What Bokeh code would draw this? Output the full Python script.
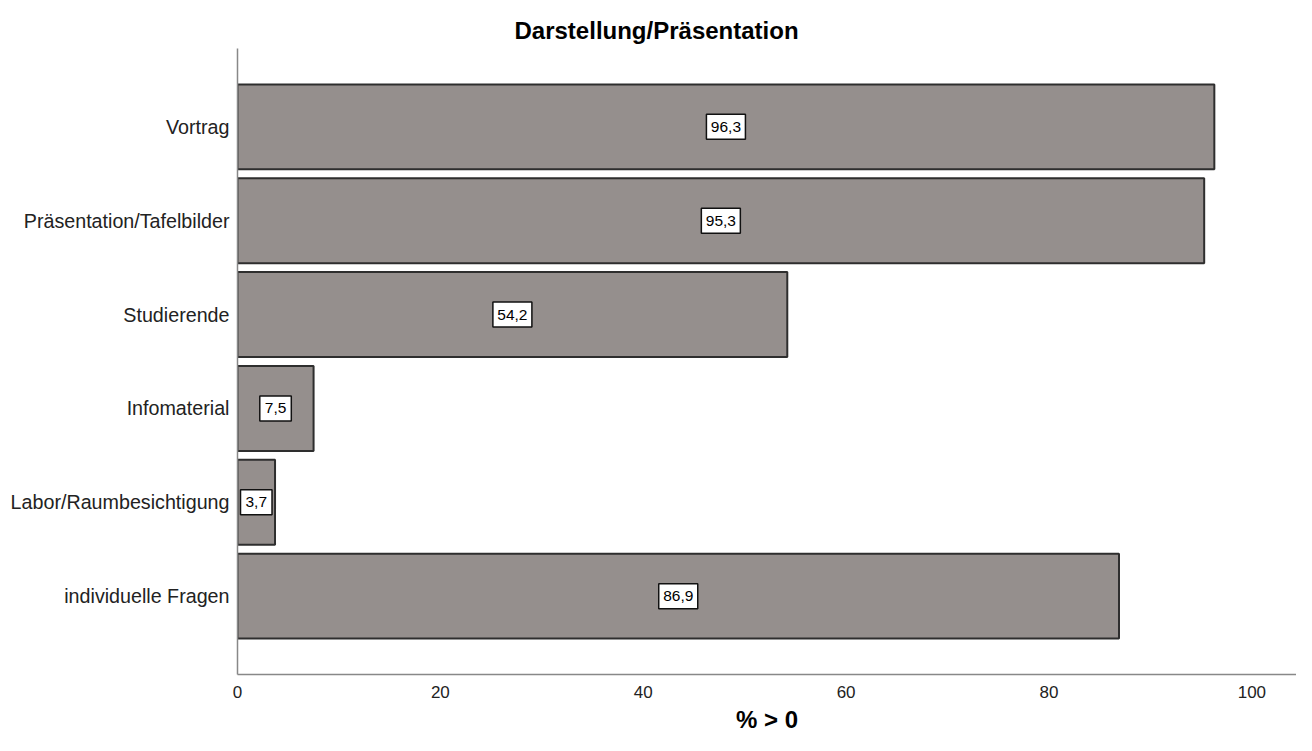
from bokeh.plotting import figure
from bokeh.models import ColumnDataSource, Range1d, FixedTicker
from bokeh.core.properties import value
from bokeh.embed import file_html
from bokeh.resources import INLINE

categories = ["Vortrag", "Präsentation/Tafelbilder", "Studierende", "Infomaterial",
              "Labor/Raumbesichtigung", "individuelle Fragen"]
values = [96.3, 95.3, 54.2, 7.5, 3.7, 86.9]
x_ticks = [0, 20, 40, 60, 80, 100]

pos = list(range(1, len(categories) + 1))
labs = [("%.1f" % v).replace(".", ",") for v in values]
src = ColumnDataSource(dict(
    y=pos, right=values, mid=[v / 2 for v in values], lab=labs,
    bw=[9 + 7.5 * len(s) for s in labs],
))

p = figure(width=1296, height=735, output_backend="svg", toolbar_location=None,
           x_range=Range1d(0, 104.4), y_range=Range1d(len(categories) + 0.835, 0.165),
           min_border_left=237, min_border_top=48, min_border_bottom=60, min_border_right=0)

p.title.text = "Darstellung/Präsentation"
p.title.align = "left"
p.title.offset = 277
p.title.standoff = 9
p.title.text_font = "Liberation Sans"
p.title.text_font_size = "24px"
p.title.text_font_style = "bold"
p.title.text_color = "#000000"

p.hbar(y="y", left=0, right="right", height=0.905, source=src,
       fill_color="#958f8d", line_color="#2e2e2e", line_width=2)

p.rect(x="mid", y="y", width="bw", height=25, width_units="screen", height_units="screen",
       source=src, fill_color="white", line_color="#111111", line_width=1.5)
p.text(x="mid", y="y", text="lab", source=src, text_align="center", text_baseline="middle",
       text_font=value("Liberation Sans"), text_font_size="15.5px", text_color="#000000")

p.xgrid.visible = False
p.ygrid.visible = False
p.outline_line_color = None

p.xaxis.ticker = FixedTicker(ticks=x_ticks)
p.xaxis.major_tick_line_color = None
p.xaxis.minor_tick_line_color = None
p.xaxis.axis_line_color = "#888888"
p.xaxis.axis_line_width = 1.5
p.xaxis.major_label_text_font = "Liberation Sans"
p.xaxis.major_label_text_font_size = "17px"
p.xaxis.major_label_text_color = "#222222"
p.xaxis.major_label_standoff = 5
p.xaxis.axis_label = "% > 0"
p.xaxis.axis_label_text_font = "Liberation Sans"
p.xaxis.axis_label_text_font_size = "24px"
p.xaxis.axis_label_text_font_style = "bold"
p.xaxis.axis_label_text_color = "#000000"
p.xaxis.axis_label_standoff = 5

p.yaxis.ticker = FixedTicker(ticks=pos)
p.yaxis.major_label_overrides = {i: c for i, c in zip(pos, categories)}
p.yaxis.major_tick_line_color = None
p.yaxis.minor_tick_line_color = None
p.yaxis.axis_line_color = "#888888"
p.yaxis.axis_line_width = 1.5
p.yaxis.major_label_text_font = "Liberation Sans"
p.yaxis.major_label_text_font_size = "19.7px"
p.yaxis.major_label_text_color = "#222222"
p.yaxis.major_label_standoff = 2

open("out.html", "w").write(file_html(p, INLINE))
